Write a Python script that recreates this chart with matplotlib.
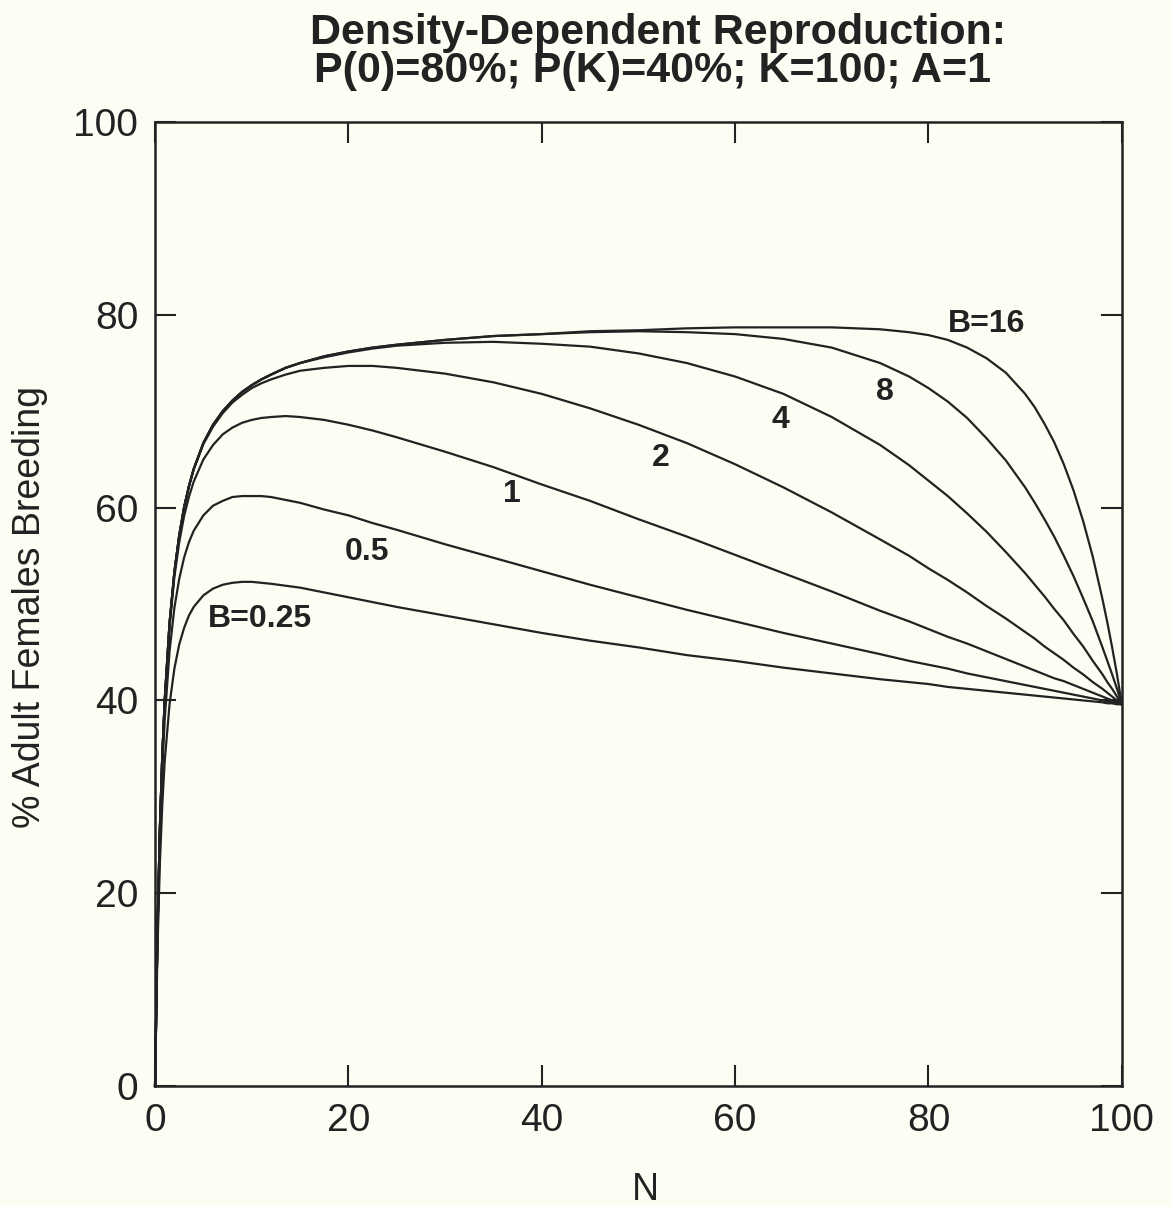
import matplotlib.pyplot as plt

# population size N and % of adult females breeding for each value of B
n_vals = [0, 0.25, 0.5, 0.75, 1, 1.5, 2, 2.5, 3, 3.5, 4, 5, 6, 7, 8, 9, 10, 11, 12, 13.5,
          15, 17.5, 20, 22.5, 25, 30, 35, 40, 45, 50, 55, 60, 65, 70, 75, 78, 80, 82, 84, 86,
          88, 90, 91, 92, 93, 94, 95, 96, 97, 98, 98.5, 99, 99.5, 100]

b_025 = [0, 14.2, 23.1, 29.2, 33.7, 39.6, 43.3, 45.8, 47.5, 48.8,
         49.7, 50.9, 51.6, 52.0, 52.2, 52.3, 52.3, 52.2, 52.1, 51.9,
         51.7, 51.2, 50.7, 50.2, 49.7, 48.8, 47.9, 47.0, 46.2, 45.5,
         44.7, 44.1, 43.4, 42.8, 42.2, 41.9, 41.7, 41.4, 41.2, 41.0,
         40.8, 40.6, 40.5, 40.4, 40.3, 40.2, 40.1, 40.0, 39.9, 39.8,
         39.7, 39.7, 39.6, 39.6]
b_05 = [0, 15.6, 25.7, 32.8, 38.0, 45.1, 49.6, 52.6, 54.8, 56.4,
        57.6, 59.2, 60.2, 60.7, 61.1, 61.2, 61.2, 61.2, 61.1, 60.8,
        60.5, 59.8, 59.2, 58.4, 57.7, 56.2, 54.8, 53.4, 52.0, 50.7,
        49.4, 48.2, 47.0, 45.9, 44.8, 44.1, 43.7, 43.3, 42.8, 42.4,
        42.0, 41.6, 41.4, 41.2, 41.0, 40.8, 40.6, 40.4, 40.2, 40.0,
        39.9, 39.8, 39.7, 39.6]
b_1 = [0, 16.0, 26.6, 34.2, 39.8, 47.6, 52.8, 56.4, 59.1, 61.1,
       62.7, 65.0, 66.5, 67.6, 68.3, 68.8, 69.1, 69.3, 69.4, 69.5,
       69.4, 69.1, 68.6, 68.0, 67.3, 65.8, 64.2, 62.4, 60.7, 58.8,
       57.0, 55.1, 53.2, 51.3, 49.3, 48.2, 47.4, 46.6, 45.9, 45.1,
       44.3, 43.5, 43.1, 42.7, 42.3, 42.0, 41.6, 41.2, 40.8, 40.4,
       40.2, 40.0, 39.8, 39.6]
b_2 = [0, 16.0, 26.7, 34.3, 40.0, 48.0, 53.3, 57.1, 60.0, 62.2,
       64.0, 66.6, 68.4, 69.8, 70.9, 71.7, 72.4, 72.9, 73.3, 73.8,
       74.2, 74.5, 74.7, 74.7, 74.5, 73.9, 73.0, 71.8, 70.3, 68.6,
       66.7, 64.5, 62.1, 59.5, 56.7, 55.0, 53.7, 52.5, 51.2, 49.8,
       48.5, 47.1, 46.4, 45.6, 44.9, 44.2, 43.4, 42.7, 41.9, 41.2,
       40.8, 40.4, 40.0, 39.6]
b_4 = [0, 16.0, 26.7, 34.3, 40.0, 48.0, 53.3, 57.1, 60.0, 62.2,
       64.0, 66.7, 68.6, 70.0, 71.1, 72.0, 72.7, 73.3, 73.8, 74.5,
       75.0, 75.6, 76.1, 76.5, 76.8, 77.1, 77.2, 77.0, 76.7, 76.0,
       75.0, 73.6, 71.8, 69.4, 66.5, 64.4, 62.8, 61.2, 59.4, 57.5,
       55.4, 53.2, 52.0, 50.8, 49.5, 48.3, 46.9, 45.6, 44.1, 42.7,
       41.9, 41.2, 40.4, 39.6]
b_8 = [0, 16.0, 26.7, 34.3, 40.0, 48.0, 53.3, 57.1, 60.0, 62.2,
       64.0, 66.7, 68.6, 70.0, 71.1, 72.0, 72.7, 73.3, 73.8, 74.5,
       75.0, 75.7, 76.2, 76.6, 76.9, 77.4, 77.8, 78.0, 78.2, 78.3,
       78.2, 78.0, 77.5, 76.6, 75.0, 73.6, 72.4, 71.0, 69.3, 67.2,
       64.9, 62.1, 60.5, 58.8, 57.0, 55.0, 52.9, 50.6, 48.2, 45.5,
       44.1, 42.7, 41.2, 39.6]
b_16 = [0, 16.0, 26.7, 34.3, 40.0, 48.0, 53.3, 57.1, 60.0, 62.2,
        64.0, 66.7, 68.6, 70.0, 71.1, 72.0, 72.7, 73.3, 73.8, 74.5,
        75.0, 75.7, 76.2, 76.6, 76.9, 77.4, 77.8, 78.0, 78.3, 78.4,
        78.6, 78.7, 78.7, 78.7, 78.5, 78.2, 77.9, 77.4, 76.6, 75.5,
        74.0, 71.8, 70.4, 68.7, 66.8, 64.5, 61.8, 58.6, 54.9, 50.5,
        48.1, 45.5, 42.7, 39.6]

curves = [b_025, b_05, b_1, b_2, b_4, b_8, b_16]
curve_labels = ["B=0.25", "0.5", "1", "2", "4", "8", "B=16"]
label_pos = [(10.9, 48.4), (21.9, 55.4), (36.9, 61.4), (52.3, 65.1),
             (64.7, 69.1), (75.5, 72.0), (86.0, 79.1)]

ticks = [0, 20, 40, 60, 80, 100]

paper = "#fdfdf3"
ink = "#222222"

plt.rcParams["font.family"] = ["Liberation Sans", "DejaVu Sans"]

fig = plt.figure(figsize=(11.71, 12.06), dpi=100, facecolor=paper)
ax = fig.add_axes([0.1324, 0.0995, 0.8256, 0.7993])
ax.set_facecolor(paper)

for vals in curves:
    ax.plot(n_vals, vals, color=ink, lw=1.6, solid_joinstyle="round", clip_on=False)

for text, (x, y) in zip(curve_labels, label_pos):
    ax.text(x, y, text, ha="center", va="center", fontsize=23,
            fontweight="bold", color=ink)

ax.set_xlim(0, 100)
ax.set_ylim(0, 100)
ax.set_xticks(ticks)
ax.set_yticks(ticks)
ax.tick_params(direction="in", length=15, width=1.5, color=ink, labelcolor=ink,
               labelsize=28, top=True, right=True, pad=12)
for sp in ax.spines.values():
    sp.set_linewidth(1.8)
    sp.set_color(ink)

fig.text(0.5617, 0.973, "Density-Dependent Reproduction:", ha="center", va="center",
         fontsize=31, fontweight="bold", color=ink)
fig.text(0.5575, 0.941, "P(0)=80%; P(K)=40%; K=100; A=1", ha="center", va="center",
         fontsize=31, fontweight="bold", color=ink)
fig.text(0.026, 0.497, "% Adult Females Breeding", rotation=90, ha="center",
         va="center", fontsize=27, color=ink)
fig.text(0.551, 0.013, "N", ha="center", va="center", fontsize=27, color=ink)

fig.savefig("out.png", dpi=100, facecolor=paper)
